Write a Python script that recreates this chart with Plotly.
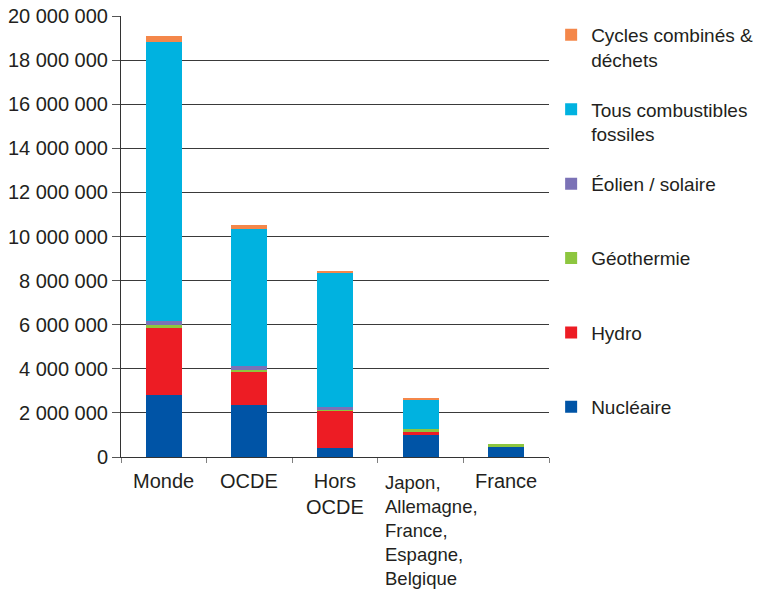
import plotly.graph_objects as go

categories = ["Monde", "OCDE", "Hors OCDE", "Japon, Allemagne, France, Espagne, Belgique", "France"]
category_labels = ["Monde", "OCDE", "Hors<br>OCDE", "Japon,<br>Allemagne,<br>France,<br>Espagne,<br>Belgique", "France"]

nucleaire = [2830000, 2350000, 430000, 1020000, 480000]
hydro = [3030000, 1490000, 1700000, 130000, 0]
geothermie = [140000, 120000, 20000, 100000, 90000]
eolien_solaire = [180000, 180000, 140000, 0, 0]
fossiles = [12650000, 6210000, 6070000, 1350000, 0]
cycles = [260000, 180000, 90000, 90000, 0]

series = [
    ("Nucléaire", nucleaire, "#0054A6"),
    ("Hydro<br> ", hydro, "#ED1C24"),
    ("Géothermie<br> ", geothermie, "#8DC63F"),
    ("Éolien / solaire<br> ", eolien_solaire, "#7B72B6"),
    ("Tous combustibles<br>fossiles", fossiles, "#00B2E0"),
    ("Cycles combinés &<br>déchets", cycles, "#F4874A"),
]

FONT = "Liberation Sans, Arial, sans-serif"
TXT = "#231F20"

fig = go.Figure()
n = len(series)
for i, (name, vals, col) in enumerate(series):
    fig.add_trace(go.Bar(x=categories, y=vals, name=name, marker_color=col,
                         marker_line_width=0, legendgroup=f"g{i}", legendrank=n - i))

for i, (cat, lab) in enumerate(zip(categories, category_labels)):
    if i == 3:
        fig.add_annotation(x=cat, xref="x", y=0, yref="paper", text=lab, showarrow=False,
                           xanchor="left", yanchor="top", align="left", xshift=-38, yshift=-13,
                           font=dict(family=FONT, size=18.5, color=TXT))
    else:
        fig.add_annotation(x=cat, xref="x", y=0, yref="paper", text=lab, showarrow=False,
                           xanchor="center", yanchor="top", align="center", yshift=-11,
                           font=dict(family=FONT, size=20, color=TXT))

fig.update_layout(
    width=770, height=591,
    barmode="stack", bargap=0.58,
    margin=dict(l=121, r=221, t=16, b=134),
    paper_bgcolor="white", plot_bgcolor="white",
    separators=", ",
    font=dict(family=FONT, size=20, color=TXT),
    showlegend=True,
    legend=dict(x=1.005, xanchor="left", y=1.0, yanchor="top",
                traceorder="grouped", tracegroupgap=22, valign="top",
                font=dict(family=FONT, size=19, color=TXT), bgcolor="rgba(0,0,0,0)"),
    xaxis=dict(showticklabels=False, ticks="outside", tickson="boundaries", ticklen=5,
               tickcolor="#808080", showline=True, linecolor="#333333", linewidth=1,
               showgrid=False, zeroline=False, automargin=False),
    yaxis=dict(range=[0, 20000000], dtick=2000000, tickformat=",d", ticks="outside",
               ticklen=8, tickcolor="#555555", showline=True, linecolor="#333333", linewidth=1,
               showgrid=True, gridcolor="#3A3A3A", gridwidth=1, zeroline=False, automargin=False,
               tickfont=dict(family=FONT, size=20, color=TXT)),
)

fig.write_html("out.html", config={"displayModeBar": False},
               post_script="document.body.style.margin='0';")
